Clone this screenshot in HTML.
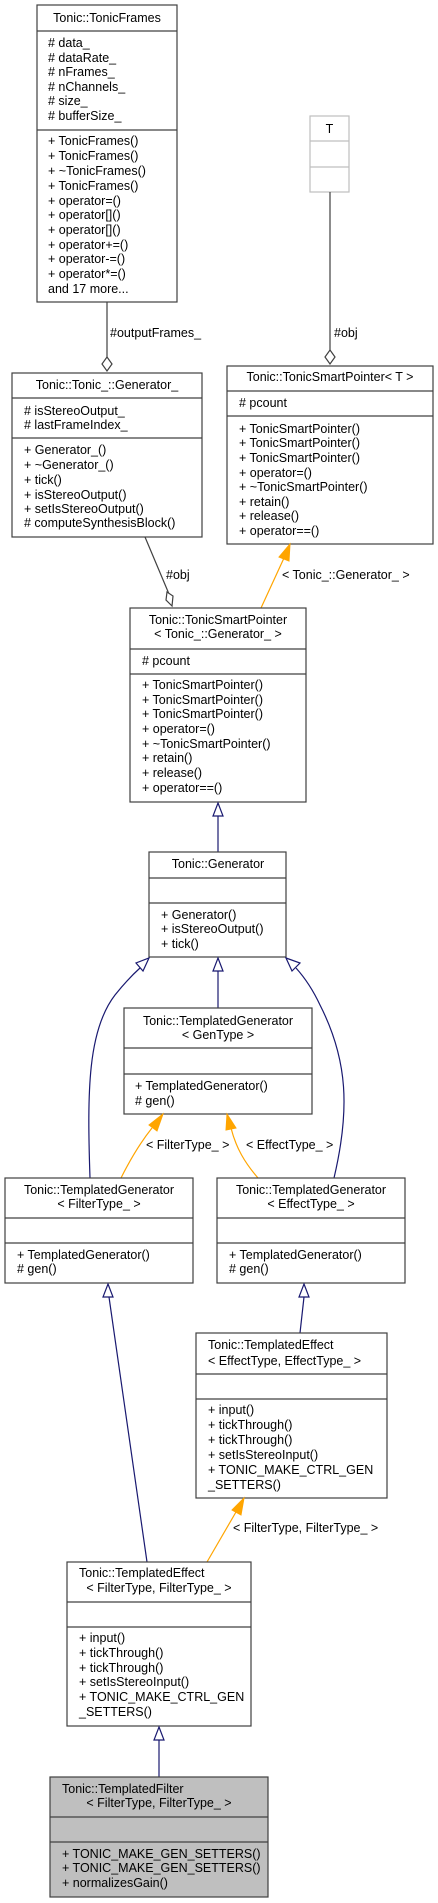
<!DOCTYPE html>
<html><head><meta charset="utf-8"><style>
html,body{margin:0;padding:0;background:#fff;}
svg{display:block;}
text{font-family:"Liberation Sans",sans-serif;font-size:12.5px;fill:#000;}
.b{fill:#fff;stroke:#404040;stroke-width:1.2;}
.g{fill:#fff;stroke:#bfbfbf;stroke-width:1.2;}
.s{stroke:#404040;stroke-width:1.2;}
.n{fill:none;stroke:#191970;stroke-width:1.2;}
.o{fill:none;stroke:orange;stroke-width:1.2;}
</style></head><body>
<svg width="438" height="1903" viewBox="0 0 438 1903" xmlns="http://www.w3.org/2000/svg">
<!-- TonicFrames -->
<rect class="b" x="37" y="5" width="140" height="297"/>
<line class="s" x1="37" y1="31" x2="177" y2="31"/><line class="s" x1="37" y1="130" x2="177" y2="130"/>
<text x="107" y="22" text-anchor="middle">Tonic::TonicFrames</text>
<text x="48" y="47"># data_</text><text x="48" y="62"># dataRate_</text><text x="48" y="76"># nFrames_</text><text x="48" y="91"># nChannels_</text><text x="48" y="105"># size_</text><text x="48" y="120"># bufferSize_</text>
<text x="48" y="145">+ TonicFrames()</text><text x="48" y="160">+ TonicFrames()</text><text x="48" y="175">+ ~TonicFrames()</text><text x="48" y="190">+ TonicFrames()</text><text x="48" y="205">+ operator=()</text><text x="48" y="219">+ operator[]()</text><text x="48" y="234">+ operator[]()</text><text x="48" y="249">+ operator+=()</text><text x="48" y="263">+ operator-=()</text><text x="48" y="278">+ operator*=()</text><text x="48" y="293">and 17 more...</text>
<!-- T -->
<rect class="g" x="310" y="116" width="39" height="76"/>
<line class="g" x1="310" y1="141" x2="349" y2="141"/><line class="g" x1="310" y1="167" x2="349" y2="167"/>
<text x="329.5" y="133" text-anchor="middle">T</text>
<!-- connectors top -->
<line class="s" x1="107" y1="302" x2="107" y2="357"/>
<polygon points="107,357 112,364 107,371 102,364" fill="#fff" stroke="#404040" stroke-width="1.2"/>
<text x="110" y="337">#outputFrames_</text>
<line class="s" x1="330" y1="192" x2="330" y2="350"/>
<polygon points="330,350 335,357 330,364 325,357" fill="#fff" stroke="#404040" stroke-width="1.2"/>
<text x="334" y="337">#obj</text>
<!-- Generator_ -->
<rect class="b" x="12" y="373" width="190" height="164"/>
<line class="s" x1="12" y1="398" x2="202" y2="398"/><line class="s" x1="12" y1="438" x2="202" y2="438"/>
<text x="107" y="389" text-anchor="middle">Tonic::Tonic_::Generator_</text>
<text x="24" y="415"># isStereoOutput_</text><text x="24" y="429"># lastFrameIndex_</text>
<text x="24" y="454">+ Generator_()</text><text x="24" y="469">+ ~Generator_()</text><text x="24" y="484">+ tick()</text><text x="24" y="499">+ isStereoOutput()</text><text x="24" y="513">+ setIsStereoOutput()</text><text x="24" y="527"># computeSynthesisBlock()</text>
<!-- SmartPointer<T> -->
<rect class="b" x="227" y="366" width="206" height="178"/>
<line class="s" x1="227" y1="391" x2="433" y2="391"/><line class="s" x1="227" y1="416" x2="433" y2="416"/>
<text x="330" y="381" text-anchor="middle">Tonic::TonicSmartPointer&lt; T &gt;</text>
<text x="239" y="407"># pcount</text>
<text x="239" y="433">+ TonicSmartPointer()</text><text x="239" y="447">+ TonicSmartPointer()</text><text x="239" y="462">+ TonicSmartPointer()</text><text x="239" y="477">+ operator=()</text><text x="239" y="491">+ ~TonicSmartPointer()</text><text x="239" y="506">+ retain()</text><text x="239" y="520">+ release()</text><text x="239" y="535">+ operator==()</text>
<!-- connectors to SP<Gen_> -->
<line class="s" x1="145" y1="537" x2="169" y2="594"/>
<polygon points="172,606 166,600 167,592 173,596" fill="#fff" stroke="#404040" stroke-width="1.2"/>
<text x="166" y="579">#obj</text>
<line class="o" x1="284" y1="558" x2="261" y2="608"/>
<polygon points="290,544 289,561 279,557" fill="orange" stroke="orange"/>
<text x="282" y="579">&lt; Tonic_::Generator_ &gt;</text>
<!-- SP<Gen_> -->
<rect class="b" x="130" y="608" width="176" height="194"/>
<line class="s" x1="130" y1="649" x2="306" y2="649"/><line class="s" x1="130" y1="674" x2="306" y2="674"/>
<text x="218" y="624" text-anchor="middle">Tonic::TonicSmartPointer</text><text x="218" y="638" text-anchor="middle">&lt; Tonic_::Generator_ &gt;</text>
<text x="142" y="665"># pcount</text>
<text x="142" y="689">+ TonicSmartPointer()</text><text x="142" y="704">+ TonicSmartPointer()</text><text x="142" y="718">+ TonicSmartPointer()</text><text x="142" y="733">+ operator=()</text><text x="142" y="748">+ ~TonicSmartPointer()</text><text x="142" y="762">+ retain()</text><text x="142" y="777">+ release()</text><text x="142" y="792">+ operator==()</text>
<line class="n" x1="218" y1="816" x2="218" y2="852"/>
<polygon points="218,803 223,816 213,816" fill="#fff" stroke="#191970" stroke-width="1.2"/>
<!-- Generator -->
<rect class="b" x="149" y="852" width="137" height="105"/>
<line class="s" x1="149" y1="878" x2="286" y2="878"/><line class="s" x1="149" y1="903" x2="286" y2="903"/>
<text x="218" y="868" text-anchor="middle">Tonic::Generator</text>
<text x="161" y="919">+ Generator()</text><text x="161" y="933">+ isStereoOutput()</text><text x="161" y="948">+ tick()</text>
<line class="n" x1="218" y1="971" x2="218" y2="1008"/>
<polygon points="218,958 223,971 213,971" fill="#fff" stroke="#191970" stroke-width="1.2"/>
<!-- curves -->
<path class="n" d="M90,1178 C87,1090 88,1030 115,995 C123,985 130,977 140,968"/>
<polygon points="149,958 143,971 136,963" fill="#fff" stroke="#191970" stroke-width="1.2"/>
<path class="n" d="M334,1178 C350,1110 348,1060 320,1005 C313,990 305,978 296,968"/>
<polygon points="286,958 300,963 292,971" fill="#fff" stroke="#191970" stroke-width="1.2"/>
<!-- TG<GenType> -->
<rect class="b" x="124" y="1008" width="188" height="106"/>
<line class="s" x1="124" y1="1048" x2="312" y2="1048"/><line class="s" x1="124" y1="1074" x2="312" y2="1074"/>
<text x="218" y="1025" text-anchor="middle">Tonic::TemplatedGenerator</text><text x="218" y="1039" text-anchor="middle">&lt; GenType &gt;</text>
<text x="135" y="1090">+ TemplatedGenerator()</text><text x="135" y="1105"># gen()</text>
<!-- orange to TG<GenType> -->
<path class="o" d="M121,1178 C130,1160 140,1143 152,1128"/>
<polygon points="163,1114 157,1131 149,1125" fill="orange" stroke="orange"/>
<text x="146" y="1149">&lt; FilterType_ &gt;</text>
<path class="o" d="M258,1178 C245,1163 236,1148 231,1128"/>
<polygon points="227,1114 236,1128 226,1130" fill="orange" stroke="orange"/>
<text x="246" y="1149">&lt; EffectType_ &gt;</text>
<!-- TG<FilterType_> -->
<rect class="b" x="5" y="1178" width="188" height="105"/>
<line class="s" x1="5" y1="1218" x2="193" y2="1218"/><line class="s" x1="5" y1="1243" x2="193" y2="1243"/>
<text x="99" y="1194" text-anchor="middle">Tonic::TemplatedGenerator</text><text x="99" y="1208" text-anchor="middle">&lt; FilterType_ &gt;</text>
<text x="17" y="1259">+ TemplatedGenerator()</text><text x="17" y="1273"># gen()</text>
<!-- TG<EffectType_> -->
<rect class="b" x="217" y="1178" width="188" height="105"/>
<line class="s" x1="217" y1="1218" x2="405" y2="1218"/><line class="s" x1="217" y1="1243" x2="405" y2="1243"/>
<text x="311" y="1194" text-anchor="middle">Tonic::TemplatedGenerator</text><text x="311" y="1208" text-anchor="middle">&lt; EffectType_ &gt;</text>
<text x="229" y="1259">+ TemplatedGenerator()</text><text x="229" y="1273"># gen()</text>
<!-- inheritance lines -->
<line class="n" x1="109" y1="1297" x2="147" y2="1562"/>
<polygon points="108,1284 113,1297 103,1297" fill="#fff" stroke="#191970" stroke-width="1.2"/>
<line class="n" x1="304" y1="1297" x2="300" y2="1333"/>
<polygon points="304,1284 309,1297 299,1297" fill="#fff" stroke="#191970" stroke-width="1.2"/>
<!-- TE<Effect> -->
<rect class="b" x="196" y="1333" width="191" height="165"/>
<line class="s" x1="196" y1="1374" x2="387" y2="1374"/><line class="s" x1="196" y1="1399" x2="387" y2="1399"/>
<text x="208" y="1349">Tonic::TemplatedEffect</text><text x="208" y="1365">&lt; EffectType, EffectType_ &gt;</text>
<text x="208" y="1414">+ input()</text><text x="208" y="1429">+ tickThrough()</text><text x="208" y="1444">+ tickThrough()</text><text x="208" y="1459">+ setIsStereoInput()</text><text x="208" y="1474">+ TONIC_MAKE_CTRL_GEN</text><text x="208" y="1489">_SETTERS()</text>
<line class="o" x1="207" y1="1562" x2="236" y2="1512"/>
<polygon points="244,1498 241,1515 232,1510" fill="orange" stroke="orange"/>
<text x="233" y="1532">&lt; FilterType, FilterType_ &gt;</text>
<!-- TE<Filter> -->
<rect class="b" x="67" y="1562" width="184" height="164"/>
<line class="s" x1="67" y1="1602" x2="251" y2="1602"/><line class="s" x1="67" y1="1627" x2="251" y2="1627"/>
<text x="79" y="1577">Tonic::TemplatedEffect</text><text x="159" y="1592" text-anchor="middle">&lt; FilterType, FilterType_ &gt;</text>
<text x="79" y="1642">+ input()</text><text x="79" y="1657">+ tickThrough()</text><text x="79" y="1672">+ tickThrough()</text><text x="79" y="1686">+ setIsStereoInput()</text><text x="79" y="1701">+ TONIC_MAKE_CTRL_GEN</text><text x="79" y="1716">_SETTERS()</text>
<line class="n" x1="159" y1="1740" x2="159" y2="1777"/>
<polygon points="159,1727 164,1740 154,1740" fill="#fff" stroke="#191970" stroke-width="1.2"/>
<!-- TemplatedFilter -->
<rect x="50" y="1777" width="218" height="120" fill="#bfbfbf" stroke="#404040" stroke-width="1.2"/>
<line class="s" x1="50" y1="1817" x2="268" y2="1817"/><line class="s" x1="50" y1="1842" x2="268" y2="1842"/>
<text x="62" y="1793">Tonic::TemplatedFilter</text><text x="159" y="1807" text-anchor="middle">&lt; FilterType, FilterType_ &gt;</text>
<text x="62" y="1858">+ TONIC_MAKE_GEN_SETTERS()</text><text x="62" y="1872">+ TONIC_MAKE_GEN_SETTERS()</text><text x="62" y="1887">+ normalizesGain()</text>
</svg>
</body></html>
